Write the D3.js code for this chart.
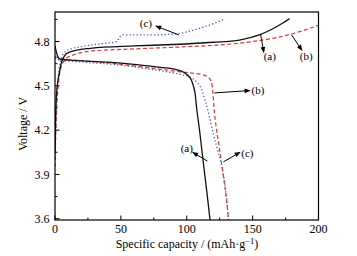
<!DOCTYPE html>
<html><head><meta charset="utf-8">
<script src="https://cdn.jsdelivr.net/npm/d3@7"></script>
<style>body{margin:0;background:#fff}svg{display:block}</style>
</head><body>
<svg id="c" width="357" height="256"></svg>
<script>
// Data (capacity mAh/g, voltage V)
const chargeA = [[0,4.05],[0.5,4.3],[1,4.42],[1.7,4.5],[3.3,4.59],[5,4.66],[7,4.7],[9,4.72],[16.5,4.742],[27,4.754],[60,4.77],[90,4.78],[120,4.795],[140,4.81],[155,4.845],[165,4.885],[172,4.92],[178,4.955]];
const chargeB = [[0,3.95],[0.5,4.15],[1,4.3],[2,4.45],[3,4.55],[4.5,4.62],[7,4.67],[10,4.695],[14,4.71],[27,4.735],[60,4.75],[100,4.765],[130,4.78],[150,4.8],[170,4.83],[185,4.865],[200,4.91]];
const chargeC = [[0,4.0],[1,4.35],[2,4.5],[3,4.6],[5,4.69],[7.6,4.73],[12,4.75],[20,4.765],[35,4.785],[47,4.8],[49,4.83],[51,4.845],[70,4.845],[90,4.85],[100,4.865],[110,4.89],[120,4.92],[128,4.95]];
const dischargeA = [[0,4.77],[1,4.73],[2,4.7],[4,4.68],[15,4.672],[40,4.66],[60,4.645],[80,4.625],[92,4.61],[98,4.59],[101,4.57],[103.5,4.54],[105,4.5],[106.3,4.45],[107.5,4.35],[109.7,4.2],[112.3,4.0],[115,3.8],[117.7,3.59]];
const dischargeB = [[0,4.7],[2,4.69],[5,4.682],[20,4.67],[40,4.655],[60,4.635],[80,4.612],[95,4.595],[105,4.585],[112,4.575],[116,4.56],[118.5,4.53],[119.7,4.47],[120.7,4.35],[122.2,4.23],[124.2,4.11],[126,4.0],[127.9,3.884],[130,3.74],[131.7,3.59]];
const dischargeC = [[0,4.69],[3,4.675],[10,4.668],[30,4.655],[50,4.64],[70,4.615],[85,4.595],[95,4.578],[102,4.56],[107,4.53],[111,4.48],[114,4.4],[117,4.3],[120,4.18],[123,4.08],[126,3.98],[128.5,3.86],[130.5,3.72],[131.7,3.59]];
const xTicks = [0,50,100,150,200];
const yTicks = [3.6,3.9,4.2,4.5,4.8];
const xMinor = [25,75,125,175];
const yMinor = [3.75,4.05,4.35,4.65,4.95];
// annotations: label, curve point [cap,V], arrow head [cap,V], label position [cap,V]
const labels = [
  {t:"(c)", from:[94,4.845], to:[76.5,4.905], at:[69,4.925]},
  {t:"(a)", from:[156,4.85], to:[158.5,4.726], at:[163,4.705]},
  {t:"(b)", from:[179.5,4.846], to:[187.5,4.74], at:[190.7,4.705]},
  {t:"(b)", from:[121,4.452], to:[148,4.468], at:[154,4.47]},
  {t:"(a)", from:[115.7,3.99], to:[104.5,4.05], at:[100,4.08]},
  {t:"(c)", from:[127.8,3.985], to:[140.5,4.05], at:[146,4.045]}
];

const svg = d3.select("#c");
const x = d3.scaleLinear().domain([0,200]).range([55,318.5]);
const y = d3.scaleLinear().domain([3.6,5.0]).range([218.7,12]);
const yBottom = 220;

svg.append("defs").append("marker").attr("id","ah").attr("viewBox","0 0 10 10")
  .attr("refX",9).attr("refY",5).attr("markerWidth",7).attr("markerHeight",6)
  .attr("markerUnits","userSpaceOnUse").attr("orient","auto")
  .append("path").attr("d","M0,1L10,5L0,9Z").attr("fill","#000");

const line = d3.line().x(d=>x(d[0])).y(d=>y(d[1])).curve(d3.curveMonotoneX);
svg.append("clipPath").attr("id","pc").append("rect")
  .attr("x",55).attr("y",12).attr("width",263.5).attr("height",208);
const g = svg.append("g").attr("clip-path","url(#pc)");

const styles = [
  {d:chargeC, c:"#4a5fc0", w:1.3, dash:"1.3,2.2"},
  {d:dischargeC, c:"#4a5fc0", w:1.3, dash:"1.3,2.2"},
  {d:chargeB, c:"#d2393a", w:1.2, dash:"4,2.5"},
  {d:dischargeB, c:"#d2393a", w:1.2, dash:"4,2.5"},
  {d:chargeA, c:"#111", w:1.3, dash:null},
  {d:dischargeA, c:"#111", w:1.3, dash:null}
];
styles.forEach(s=>{
  g.append("path").attr("d",line(s.d)).attr("fill","none").attr("stroke",s.c)
   .attr("stroke-width",s.w).attr("stroke-dasharray",s.dash);
});

// frame
svg.append("rect").attr("x",55).attr("y",12).attr("width",263.5).attr("height",208)
  .attr("fill","none").attr("stroke","#000").attr("stroke-width",1.2);

const font = "'Liberation Serif','Times New Roman',serif";
xTicks.forEach(v=>{
  svg.append("line").attr("x1",x(v)).attr("x2",x(v)).attr("y1",yBottom).attr("y2",yBottom-4.5).attr("stroke","#000").attr("stroke-width",1);
  svg.append("text").attr("x",x(v)).attr("y",232.5).attr("text-anchor","middle")
    .attr("font-family",font).attr("font-size",12).text(v);
});
xMinor.forEach(v=>{
  svg.append("line").attr("x1",x(v)).attr("x2",x(v)).attr("y1",yBottom).attr("y2",yBottom-2.5).attr("stroke","#000").attr("stroke-width",1);
});
yTicks.forEach(v=>{
  svg.append("line").attr("x1",55).attr("x2",59.5).attr("y1",y(v)).attr("y2",y(v)).attr("stroke","#000").attr("stroke-width",1);
  svg.append("text").attr("x",49.5).attr("y",y(v)+4.2).attr("text-anchor","end")
    .attr("font-family",font).attr("font-size",12).text(d3.format(".1f")(v));
});
yMinor.forEach(v=>{
  svg.append("line").attr("x1",55).attr("x2",57.5).attr("y1",y(v)).attr("y2",y(v)).attr("stroke","#000").attr("stroke-width",1);
});

// axis titles
const xt = svg.append("text").attr("x",187).attr("y",248).attr("text-anchor","middle")
  .attr("font-family",font).attr("font-size",12);
xt.append("tspan").text("Specific capacity / (mAh·g");
xt.append("tspan").attr("dy",-4.5).attr("font-size",8.5).text("−1");
xt.append("tspan").attr("dy",4.5).text(")");
svg.append("text").attr("transform","translate(27,124) rotate(-90)").attr("text-anchor","middle")
  .attr("font-family",font).attr("font-size",12).text("Voltage / V");

// annotations
labels.forEach(l=>{
  svg.append("line").attr("x1",x(l.from[0])).attr("y1",y(l.from[1]))
    .attr("x2",x(l.to[0])).attr("y2",y(l.to[1])).attr("stroke","#000").attr("stroke-width",1)
    .attr("marker-end","url(#ah)");
  svg.append("text").attr("x",x(l.at[0])).attr("y",y(l.at[1])+4).attr("text-anchor","middle")
    .attr("font-family",font).attr("font-size",11).text(l.t);
});
</script>
</body></html>
